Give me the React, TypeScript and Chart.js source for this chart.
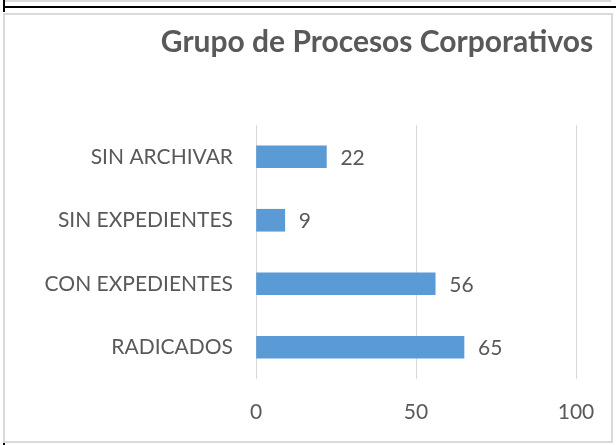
import React, { useEffect, useRef } from "react";
import { Chart, registerables } from "chart.js";
Chart.register(...registerables);

const categories = ["SIN ARCHIVAR", "SIN EXPEDIENTES", "CON EXPEDIENTES", "RADICADOS"];
const values = [22, 9, 56, 65];
const xTicks = [0, 50, 100];
const title = "Grupo de Procesos Corporativos";

const FONT = "Lato, 'Open Sans', sans-serif";
const TEXT = "#595959";

export default function App() {
  const ref = useRef<HTMLCanvasElement | null>(null);
  useEffect(() => {
    if (!ref.current) return;
    const labelPlugin = {
      id: "valueLabels",
      afterDatasetsDraw(chart: any) {
        const ctx = chart.ctx;
        const meta = chart.getDatasetMeta(0);
        ctx.save();
        ctx.font = `21px ${FONT}`;
        ctx.fillStyle = TEXT;
        ctx.textAlign = "left";
        ctx.textBaseline = "middle";
        meta.data.forEach((el: any, i: number) => {
          ctx.fillText(String(values[i]), el.x + 14, el.y + 1);
        });
        ctx.restore();
      },
    };
    const titlePlugin = {
      id: "customTitle",
      afterDraw(chart: any) {
        const ctx = chart.ctx;
        ctx.save();
        ctx.font = `bold 30px ${FONT}`;
        ctx.fillStyle = TEXT;
        ctx.textAlign = "center";
        ctx.textBaseline = "middle";
        ctx.fillText(title, 372, 27);
        ctx.restore();
      },
    };
    const chart = new Chart(ref.current, {
      type: "bar",
      data: {
        labels: categories,
        datasets: [
          {
            data: values,
            backgroundColor: "#5b9bd5",
            barThickness: 22,
          },
        ],
      },
      options: {
        indexAxis: "y",
        animation: false,
        responsive: false,
        maintainAspectRatio: false,
        layout: { padding: { top: 110, right: 35, left: 0, bottom: 0 } },
        plugins: { legend: { display: false }, tooltip: { enabled: false } },
        scales: {
          x: {
            min: 0,
            max: 100,
            afterBuildTicks: (s: any) => {
              s.ticks = xTicks.map((v) => ({ value: v }));
            },
            afterFit: (s: any) => {
              s.height = 62;
              s.paddingLeft = 0;
              s.paddingRight = 0;
            },
            grid: { color: "#d9d9d9", drawTicks: false, lineWidth: 1 },
            border: { display: false },
            ticks: { color: TEXT, font: { family: FONT, size: 21 }, padding: 21 },
          },
          y: {
            afterFit: (s: any) => {
              s.width = 251;
              s.paddingTop = 0;
              s.paddingBottom = 0;
            },
            grid: { display: false, drawTicks: false },
            border: { display: false },
            ticks: { color: TEXT, font: { family: FONT, size: 21 }, padding: 23 },
          },
        },
      },
      plugins: [labelPlugin, titlePlugin],
    });
    return () => chart.destroy();
  }, []);
  return (
    <div style={{ position: "fixed", left: 0, top: 0, width: 616, height: 445, background: "#fff", overflow: "hidden" }}>
      <div style={{ position: "absolute", left: 3, top: 0, width: 608, height: 2, background: "#d9d9d9" }} />
      <div style={{ position: "absolute", left: 3, top: 0, width: 2, height: 12, background: "#000" }} />
      <div style={{ position: "absolute", left: 3, top: 6, width: 613, height: 2, background: "#000" }} />
      <div style={{ position: "absolute", left: 3, top: 442, width: 2, height: 3, background: "#000" }} />
      <div
        style={{
          position: "absolute",
          left: 3,
          top: 13,
          width: 606,
          height: 426,
          border: "2px solid #d9d9d9",
        }}
      >
        <canvas ref={ref} width={606} height={426} style={{ display: "block", width: 606, height: 426 }} />
      </div>
    </div>
  );
}
